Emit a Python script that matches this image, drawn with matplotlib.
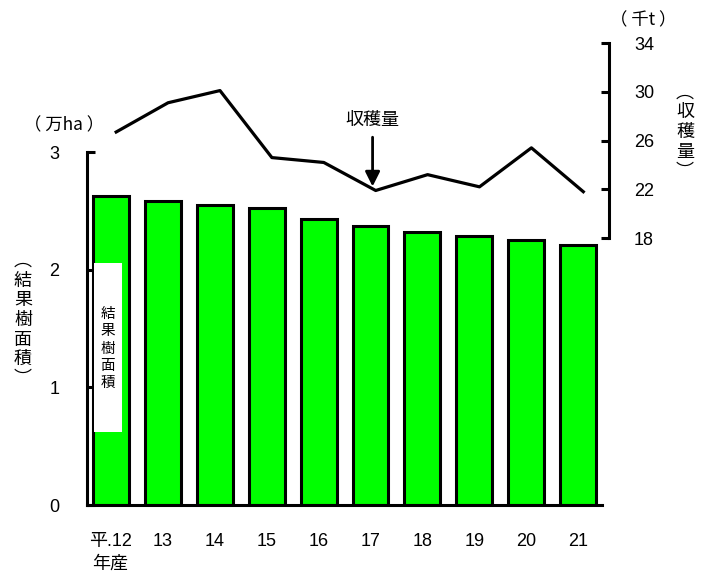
import numpy as np
import matplotlib.pyplot as plt
from matplotlib.patches import Rectangle

plt.rcParams['font.family'] = ['Liberation Sans', 'Noto Sans CJK JP', 'DejaVu Sans']
CJK = ['Noto Sans CJK JP', 'Liberation Sans']

# 年産ラベル
years = ['平.12', '13', '14', '15', '16', '17', '18', '19', '20', '21']
# 結果樹面積（万ha）
area = [2.63, 2.58, 2.55, 2.52, 2.43, 2.37, 2.32, 2.29, 2.25, 2.21]
# 収穫量（千t）
harvest = [26.7, 29.1, 30.1, 24.6, 24.2, 21.9, 23.2, 22.2, 25.4, 21.8]

x = np.arange(len(years))

fig = plt.figure(figsize=(7.12, 5.79), dpi=100)
ax = fig.add_axes([87 / 712, 74 / 579, 522 / 712, 465 / 579])
ax2 = ax.twinx()

# 棒グラフ（結果樹面積）
ax.bar(x, area, width=0.69, color='#00ff00', edgecolor='black', linewidth=2.2, zorder=2)
ax.set_xlim(-0.462, 9.595)
ax.set_ylim(0, 3.952)

for s in ['top', 'right']:
    ax.spines[s].set_visible(False)
ax.spines['left'].set_bounds(0, 3)
ax.spines['left'].set_linewidth(2.2)
ax.spines['bottom'].set_bounds(-0.462, 9.46)
ax.spines['bottom'].set_linewidth(2.2)
ax.set_yticks([0, 1, 2, 3])
ax.set_yticklabels(['0', '1', '2', '3'], fontsize=13)
ax.tick_params(axis='y', direction='in', length=6, width=2.2, pad=20)
ax.set_xticks(x)
ax.set_xticklabels(years, fontsize=13)
ax.tick_params(axis='x', length=0, pad=20)

# 折れ線（収穫量）
ax2.plot(x + 0.1, harvest, color='black', linewidth=2.3, zorder=3)
ax2.set_ylim(-3.91, 34.25)
for s in ['top', 'left', 'bottom']:
    ax2.spines[s].set_visible(False)
ax2.spines['right'].set_bounds(18, 34)
ax2.spines['right'].set_linewidth(2.2)
ax2.set_yticks([18, 22, 26, 30, 34])
ax2.set_yticklabels(['18', '22', '26', '30', '34'], fontsize=13)
ax2.tick_params(axis='y', direction='in', length=6, width=2.2, pad=18)

# 収穫量の矢印
ax2.annotate('', xy=(5.04, harvest[5] + 0.1), xytext=(5.04, 26.5),
             arrowprops=dict(arrowstyle='-|>', color='black', lw=2, mutation_scale=22))
ax2.text(5.04, 27.7, '収穫量', ha='center', va='center', fontsize=13, family=CJK)

# 棒内の白い凡例ボックス
ax.add_patch(Rectangle((-0.33, 0.62), 0.54, 1.44, facecolor='white', edgecolor='none', zorder=4))
ax.text(-0.06, 1.33, '結\n果\n樹\n面\n積', ha='center', va='center', fontsize=10.5,
        linespacing=1.28, zorder=5, family=CJK)

# 軸の単位・タイトル
fig.text(64 / 712, 1 - 125 / 579, '（ 万ha ）', ha='center', va='center', fontsize=12.5, family=CJK)
fig.text(643 / 712, 1 - 20 / 579, '（ 千t ）', ha='center', va='center', fontsize=12.5, family=CJK)
fig.text(23 / 712, 1 - 320 / 579, '︵\n結\n果\n樹\n面\n積\n︶', ha='center', va='center',
         fontsize=13, linespacing=1.12, family=CJK)
fig.text(685 / 712, 1 - 132 / 579, '︵\n収\n穫\n量\n︶', ha='center', va='center',
         fontsize=13, linespacing=1.12, family=CJK)
fig.text(110 / 712, 1 - 564 / 579, '年産', ha='center', va='center', fontsize=13, family=CJK)

fig.savefig('out.png', dpi=100)
